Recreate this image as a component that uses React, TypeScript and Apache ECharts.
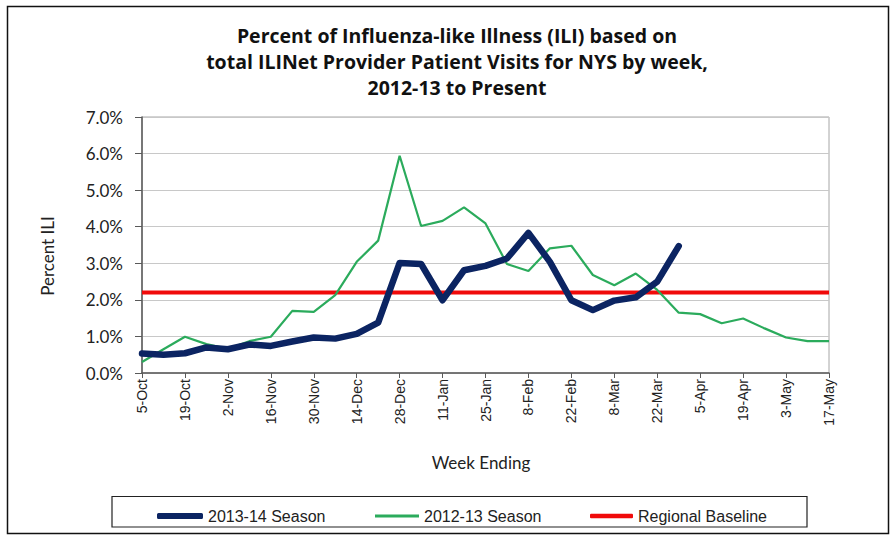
import React, { useEffect, useRef } from "react";
import * as echarts from "echarts";

const weeks = [
  "5-Oct", "12-Oct", "19-Oct", "26-Oct", "2-Nov", "9-Nov", "16-Nov", "23-Nov", "30-Nov",
  "7-Dec", "14-Dec", "21-Dec", "28-Dec", "4-Jan", "11-Jan", "18-Jan", "25-Jan", "1-Feb",
  "8-Feb", "15-Feb", "22-Feb", "1-Mar", "8-Mar", "15-Mar", "22-Mar", "29-Mar", "5-Apr",
  "12-Apr", "19-Apr", "26-Apr", "3-May", "10-May", "17-May",
];

const season1314 = [
  0.53, 0.5, 0.54, 0.7, 0.65, 0.78, 0.74, 0.86, 0.97, 0.94, 1.07, 1.38, 3.01, 2.98, 1.99,
  2.81, 2.93, 3.13, 3.83, 3.04, 1.99, 1.72, 1.98, 2.07, 2.5, 3.47,
];

const season1213 = [
  0.3, 0.65, 0.99, 0.79, 0.66, 0.87, 0.99, 1.7, 1.67, 2.13, 3.04, 3.62, 5.94, 4.02, 4.16,
  4.53, 4.09, 2.98, 2.79, 3.41, 3.48, 2.68, 2.4, 2.72, 2.27, 1.65, 1.61, 1.36, 1.49, 1.22,
  0.97, 0.87, 0.87,
];

const baseline = [
  2.2, 2.2, 2.2, 2.2, 2.2, 2.2, 2.2, 2.2, 2.2, 2.2, 2.2, 2.2, 2.2, 2.2, 2.2, 2.2, 2.2,
  2.2, 2.2, 2.2, 2.2, 2.2, 2.2, 2.2, 2.2, 2.2, 2.2, 2.2, 2.2, 2.2, 2.2, 2.2, 2.2,
];

const titleLines = [
  "Percent of Influenza-like Illness (ILI) based on",
  "total ILINet Provider Patient Visits for NYS by week,",
  "2012-13 to Present",
];

const seriesNames = ["2013-14 Season", "2012-13 Season", "Regional Baseline"];

const NAVY = "#0b2462";
const GREEN = "#2bab5c";
const RED = "#f00a0a";

export default function App() {
  const ref = useRef<HTMLDivElement>(null);

  useEffect(() => {
    document.body.style.margin = "0";
    const chart = echarts.init(ref.current!, null, { renderer: "svg" });
    const calib = "Lato, 'Open Sans', sans-serif";
    const arial = "'Liberation Sans', Arial, sans-serif";
    const legendText = {
      fontFamily: arial,
      fontSize: 16,
      lineHeight: 20,
      color: "#222",
    };
    chart.setOption({
      animation: false,
      backgroundColor: "#ffffff",
      title: {
        text: titleLines.join("\n"),
        left: 452,
        textAlign: "center",
        top: 17,
        textStyle: {
          fontFamily: "'Open Sans', sans-serif",
          fontWeight: "bold",
          fontSize: 19.5,
          lineHeight: 26,
          color: "#111",
        },
      },
      graphic: [
        {
          type: "rect",
          shape: { x: 7.5, y: 6.5, width: 881, height: 527 },
          style: { fill: "none", stroke: "#111", lineWidth: 1.5 },
          silent: true,
          z: 0,
        },
        {
          type: "rect",
          shape: { x: 112, y: 496.5, width: 695, height: 30.5 },
          style: { fill: "none", stroke: "#222", lineWidth: 1.2 },
          silent: true,
          z: 0,
        },
      ],
      legend: [
        {
          data: [seriesNames[0]],
          left: 152,
          top: 501,
          itemWidth: 46,
          itemHeight: 6,
          itemGap: 0,
          icon: "roundRect",
          textStyle: legendText,
        },
        {
          data: [seriesNames[1]],
          left: 370,
          top: 501,
          itemWidth: 44,
          itemHeight: 3,
          icon: "rect",
          textStyle: legendText,
        },
        {
          data: [seriesNames[2]],
          left: 585,
          top: 501,
          itemWidth: 43,
          itemHeight: 4.5,
          icon: "roundRect",
          textStyle: legendText,
        },
      ],
      grid: {
        left: 142,
        right: 66,
        top: 117,
        bottom: 163,
        show: true,
        borderColor: "#a6a6a6",
        borderWidth: 1,
      },
      xAxis: {
        type: "category",
        data: weeks,
        boundaryGap: false,
        name: "Week Ending",
        nameLocation: "middle",
        nameGap: 81,
        nameTextStyle: {
          fontFamily: calib,
          fontSize: 17,
          color: "#222",
          padding: [0, 9, 0, 0],
        },
        axisLine: { lineStyle: { color: "#595959", width: 1.5 } },
        axisTick: { interval: 1, length: 5, lineStyle: { color: "#595959" } },
        axisLabel: {
          interval: 1,
          rotate: 90,
          margin: 6,
          fontFamily: arial,
          fontSize: 14,
          color: "#222",
        },
      },
      yAxis: {
        type: "value",
        min: 0,
        max: 7,
        interval: 1,
        name: "Percent ILI",
        nameLocation: "middle",
        nameGap: 86,
        nameRotate: 90,
        nameTextStyle: {
          fontFamily: calib,
          fontSize: 17,
          color: "#222",
          padding: [0, 22, 0, 0],
        },
        axisLine: { show: true, lineStyle: { color: "#595959", width: 1.5 } },
        axisTick: { show: true, length: 7, lineStyle: { color: "#595959" } },
        axisLabel: {
          margin: 19,
          fontFamily: calib,
          fontSize: 17,
          color: "#222",
          formatter: (v: number) => v.toFixed(1) + "%",
        },
        splitLine: { lineStyle: { color: "#c8c8c8", width: 1.2 } },
      },
      series: [
        {
          name: seriesNames[0],
          type: "line",
          data: season1314,
          symbol: "none",
          z: 4,
          lineStyle: { color: NAVY, width: 6.5, cap: "round", join: "round" },
          itemStyle: { color: NAVY },
        },
        {
          name: seriesNames[1],
          type: "line",
          data: season1213,
          symbol: "none",
          z: 3,
          lineStyle: { color: GREEN, width: 2.2 },
          itemStyle: { color: GREEN },
        },
        {
          name: seriesNames[2],
          type: "line",
          data: baseline,
          symbol: "none",
          z: 2,
          lineStyle: { color: RED, width: 4 },
          itemStyle: { color: RED },
        },
      ],
    });
    return () => chart.dispose();
  }, []);

  return <div ref={ref} style={{ width: 895, height: 536 }} />;
}
